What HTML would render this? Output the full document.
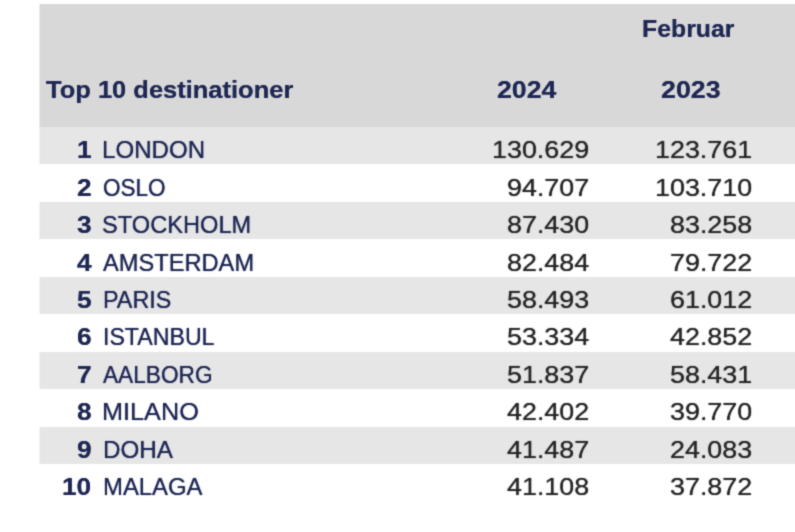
<!DOCTYPE html><html><head><meta charset="utf-8"><style>
html,body{margin:0;padding:0;background:#fff;overflow:hidden;}
body{width:795px;height:532px;position:relative;overflow:hidden;font-family:"Liberation Sans",sans-serif;}
.bg{position:absolute;left:40px;right:0;}
.t{position:absolute;white-space:nowrap;transform-origin:0 0;line-height:1;text-shadow:0 0 0.8px currentColor;}
.b{font-weight:bold;text-shadow:0 0 0.5px currentColor;}
#w{position:absolute;left:0;top:0;width:840px;height:560px;filter:url(#soft);}
</style></head><body><svg width="0" height="0" style="position:absolute"><defs><filter id="soft" x="0" y="0" width="100%" height="100%" color-interpolation-filters="sRGB"><feConvolveMatrix order="3" kernelMatrix="0.0289 0.1122 0.0289 0.1122 0.4356 0.1122 0.0289 0.1122 0.0289" edgeMode="duplicate" preserveAlpha="false"/></filter></defs></svg><div id="w">
<div class="bg" style="top:4px;height:122.8px;background:#d8d8d8"></div>
<div style="position:absolute;left:39px;width:1px;top:4px;height:122.8px;background:#ebebeb"></div>
<div class="bg" style="top:126.8px;height:37.5px;background:#e6e6e6"></div>
<div style="position:absolute;left:39px;width:1px;top:126.8px;height:37.5px;background:#f2f2f2"></div>
<div class="bg" style="top:201.8px;height:37.5px;background:#e6e6e6"></div>
<div style="position:absolute;left:39px;width:1px;top:201.8px;height:37.5px;background:#f2f2f2"></div>
<div class="bg" style="top:276.8px;height:37.5px;background:#e6e6e6"></div>
<div style="position:absolute;left:39px;width:1px;top:276.8px;height:37.5px;background:#f2f2f2"></div>
<div class="bg" style="top:351.8px;height:37.5px;background:#e6e6e6"></div>
<div style="position:absolute;left:39px;width:1px;top:351.8px;height:37.5px;background:#f2f2f2"></div>
<div class="bg" style="top:426.8px;height:37.5px;background:#e6e6e6"></div>
<div style="position:absolute;left:39px;width:1px;top:426.8px;height:37.5px;background:#f2f2f2"></div>
<div class="t b" style="left:46.02px;top:78.36px;font-size:24.5px;color:#1f2854;transform:scaleX(1.0402)">Top 10 destinationer</div>
<div class="t b" style="left:642.36px;top:16.56px;font-size:24.5px;color:#1f2854;transform:scaleX(1.0140)">Februar</div>
<div class="t b" style="left:496.59px;top:78.36px;font-size:24.5px;color:#1f2854;transform:scaleX(1.0891)">2024</div>
<div class="t b" style="left:660.59px;top:78.36px;font-size:24.5px;color:#1f2854;transform:scaleX(1.0929)">2023</div>
<div class="t b" style="left:77.00px;top:139.33px;font-size:23.0px;color:#1f2854;transform:scaleX(1.1414)">1</div>
<div class="t" style="left:102.43px;top:139.33px;font-size:23.0px;color:#1f2854;transform:scaleX(1.0471)">LONDON</div>
<div class="t" style="left:492.43px;top:139.33px;font-size:23.0px;color:#262626;transform:scaleX(1.1687)">130.629</div>
<div class="t" style="left:654.83px;top:139.33px;font-size:23.0px;color:#262626;transform:scaleX(1.1687)">123.761</div>
<div class="t b" style="left:77.00px;top:176.73px;font-size:23.0px;color:#1f2854;transform:scaleX(1.1414)">2</div>
<div class="t" style="left:102.74px;top:176.73px;font-size:23.0px;color:#1f2854;transform:scaleX(0.9800)">OSLO</div>
<div class="t" style="left:507.38px;top:176.73px;font-size:23.0px;color:#262626;transform:scaleX(1.1687)">94.707</div>
<div class="t" style="left:654.83px;top:176.73px;font-size:23.0px;color:#262626;transform:scaleX(1.1687)">103.710</div>
<div class="t b" style="left:77.00px;top:214.13px;font-size:23.0px;color:#1f2854;transform:scaleX(1.1414)">3</div>
<div class="t" style="left:102.04px;top:214.13px;font-size:23.0px;color:#1f2854;transform:scaleX(1.0271)">STOCKHOLM</div>
<div class="t" style="left:507.38px;top:214.13px;font-size:23.0px;color:#262626;transform:scaleX(1.1687)">87.430</div>
<div class="t" style="left:669.78px;top:214.13px;font-size:23.0px;color:#262626;transform:scaleX(1.1687)">83.258</div>
<div class="t b" style="left:77.00px;top:251.53px;font-size:23.0px;color:#1f2854;transform:scaleX(1.1414)">4</div>
<div class="t" style="left:102.75px;top:251.53px;font-size:23.0px;color:#1f2854;transform:scaleX(1.0282)">AMSTERDAM</div>
<div class="t" style="left:507.38px;top:251.53px;font-size:23.0px;color:#262626;transform:scaleX(1.1687)">82.484</div>
<div class="t" style="left:669.78px;top:251.53px;font-size:23.0px;color:#262626;transform:scaleX(1.1687)">79.722</div>
<div class="t b" style="left:77.00px;top:288.93px;font-size:23.0px;color:#1f2854;transform:scaleX(1.1414)">5</div>
<div class="t" style="left:102.78px;top:288.93px;font-size:23.0px;color:#1f2854;transform:scaleX(1.0155)">PARIS</div>
<div class="t" style="left:507.38px;top:288.93px;font-size:23.0px;color:#262626;transform:scaleX(1.1687)">58.493</div>
<div class="t" style="left:669.78px;top:288.93px;font-size:23.0px;color:#262626;transform:scaleX(1.1687)">61.012</div>
<div class="t b" style="left:77.00px;top:326.33px;font-size:23.0px;color:#1f2854;transform:scaleX(1.1414)">6</div>
<div class="t" style="left:102.57px;top:326.33px;font-size:23.0px;color:#1f2854;transform:scaleX(1.0066)">ISTANBUL</div>
<div class="t" style="left:507.38px;top:326.33px;font-size:23.0px;color:#262626;transform:scaleX(1.1687)">53.334</div>
<div class="t" style="left:669.78px;top:326.33px;font-size:23.0px;color:#262626;transform:scaleX(1.1687)">42.852</div>
<div class="t b" style="left:77.00px;top:363.73px;font-size:23.0px;color:#1f2854;transform:scaleX(1.1414)">7</div>
<div class="t" style="left:102.75px;top:363.73px;font-size:23.0px;color:#1f2854;transform:scaleX(0.9858)">AALBORG</div>
<div class="t" style="left:507.38px;top:363.73px;font-size:23.0px;color:#262626;transform:scaleX(1.1687)">51.837</div>
<div class="t" style="left:669.78px;top:363.73px;font-size:23.0px;color:#262626;transform:scaleX(1.1687)">58.431</div>
<div class="t b" style="left:77.00px;top:401.13px;font-size:23.0px;color:#1f2854;transform:scaleX(1.1414)">8</div>
<div class="t" style="left:102.33px;top:401.13px;font-size:23.0px;color:#1f2854;transform:scaleX(1.0975)">MILANO</div>
<div class="t" style="left:507.38px;top:401.13px;font-size:23.0px;color:#262626;transform:scaleX(1.1687)">42.402</div>
<div class="t" style="left:669.78px;top:401.13px;font-size:23.0px;color:#262626;transform:scaleX(1.1687)">39.770</div>
<div class="t b" style="left:77.00px;top:438.53px;font-size:23.0px;color:#1f2854;transform:scaleX(1.1414)">9</div>
<div class="t" style="left:102.51px;top:438.53px;font-size:23.0px;color:#1f2854;transform:scaleX(1.0540)">DOHA</div>
<div class="t" style="left:507.38px;top:438.53px;font-size:23.0px;color:#262626;transform:scaleX(1.1687)">41.487</div>
<div class="t" style="left:669.78px;top:438.53px;font-size:23.0px;color:#262626;transform:scaleX(1.1687)">24.083</div>
<div class="t b" style="left:62.40px;top:475.93px;font-size:23.0px;color:#1f2854;transform:scaleX(1.1414)">10</div>
<div class="t" style="left:102.54px;top:475.93px;font-size:23.0px;color:#1f2854;transform:scaleX(1.0380)">MALAGA</div>
<div class="t" style="left:507.38px;top:475.93px;font-size:23.0px;color:#262626;transform:scaleX(1.1687)">41.108</div>
<div class="t" style="left:669.78px;top:475.93px;font-size:23.0px;color:#262626;transform:scaleX(1.1687)">37.872</div>
</div></body></html>
